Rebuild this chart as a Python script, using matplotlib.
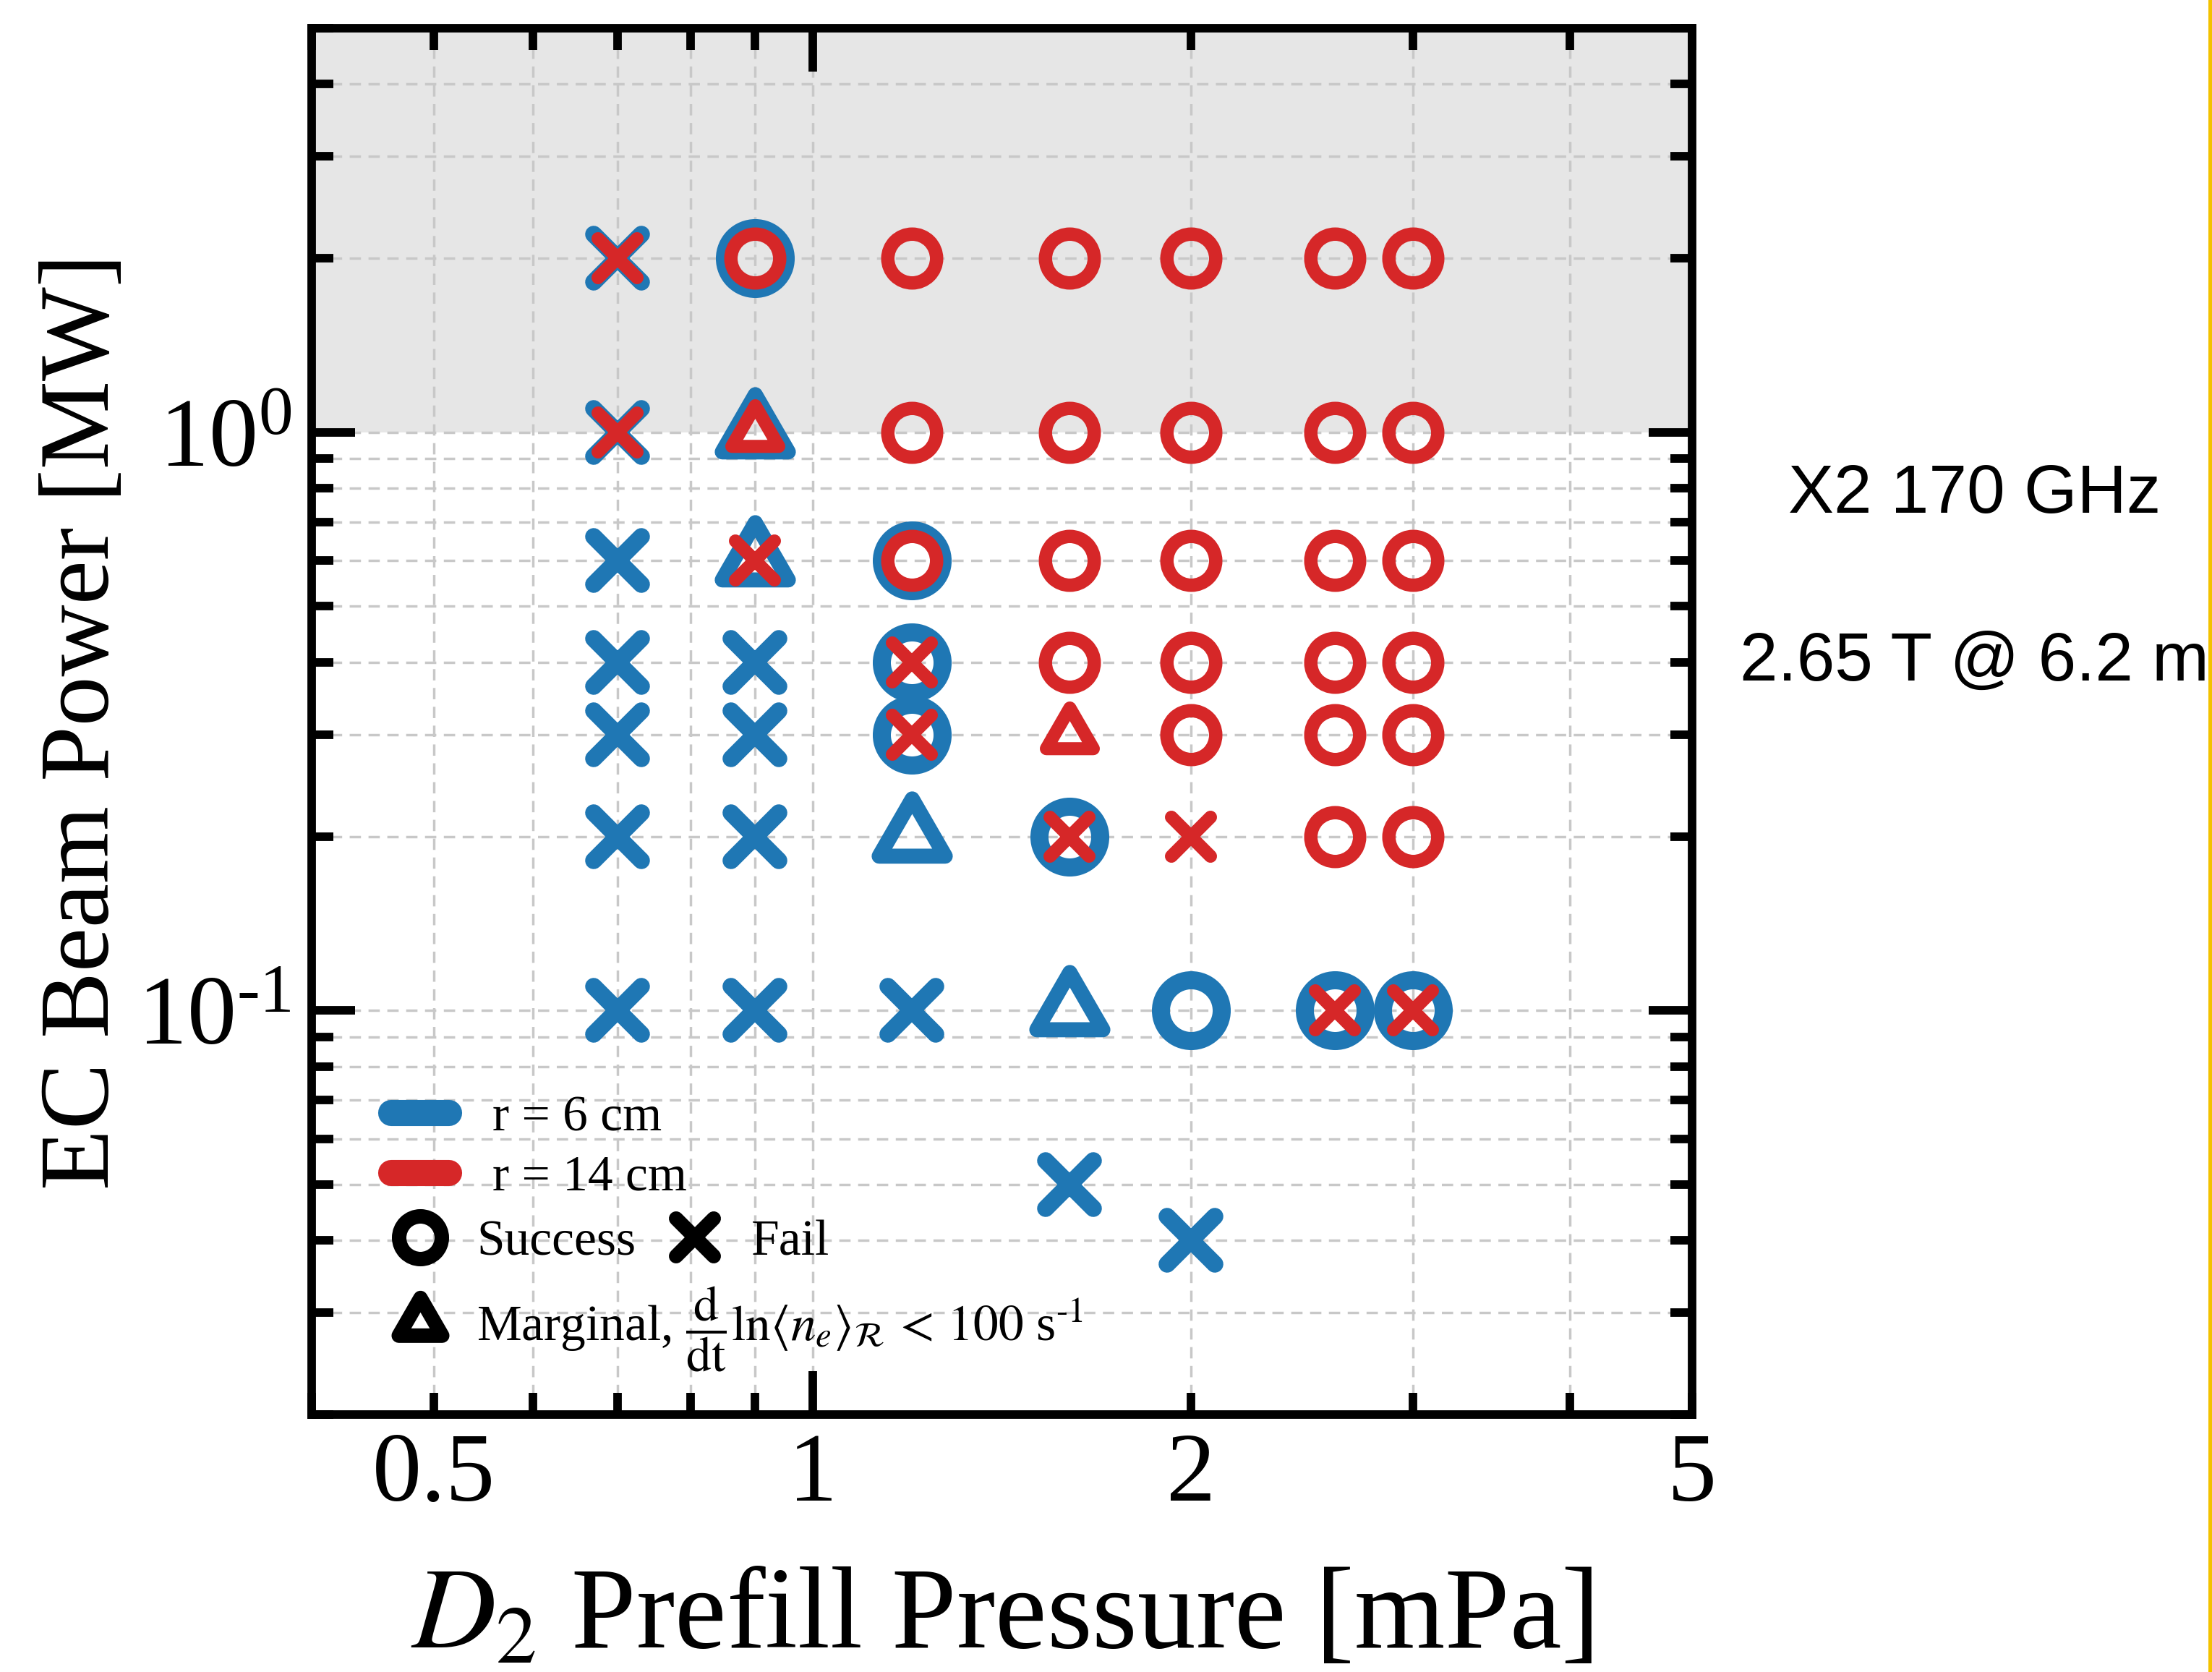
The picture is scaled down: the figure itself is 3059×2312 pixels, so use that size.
import numpy as np
import matplotlib
matplotlib.use("Agg")
import matplotlib.pyplot as plt
from matplotlib.lines import Line2D
from matplotlib.markers import MarkerStyle
from matplotlib.path import Path
from matplotlib.ticker import LogLocator, FuncFormatter, NullFormatter

plt.rcParams['font.family'] = ['Liberation Serif', 'DejaVu Serif']
plt.rcParams['mathtext.fontset'] = 'stix'

# ---------------- data ----------------
# r = 6 cm (blue)
blue_success_x = [0.9, 1.2, 1.2, 1.2, 1.6, 2.0, 2.6, 3.0]
blue_success_y = [2.0, 0.6, 0.4, 0.3, 0.2, 0.1, 0.1, 0.1]
blue_marginal_x = [0.9, 0.9, 1.2, 1.6]
blue_marginal_y = [1.0, 0.6, 0.2, 0.1]
blue_fail_x = [0.7, 0.7, 0.7, 0.7, 0.7, 0.7, 0.7, 0.9, 0.9, 0.9, 0.9, 1.2, 1.6, 2.0]
blue_fail_y = [2.0, 1.0, 0.6, 0.4, 0.3, 0.2, 0.1, 0.4, 0.3, 0.2, 0.1, 0.1, 0.05, 0.04]

# r = 14 cm (red)
red_success_x = [0.9, 1.2, 1.2, 1.2, 1.6, 1.6, 1.6, 1.6,
                 2.0, 2.0, 2.0, 2.0, 2.0,
                 2.6, 2.6, 2.6, 2.6, 2.6, 2.6,
                 3.0, 3.0, 3.0, 3.0, 3.0, 3.0]
red_success_y = [2.0, 2.0, 1.0, 0.6, 2.0, 1.0, 0.6, 0.4,
                 2.0, 1.0, 0.6, 0.4, 0.3,
                 2.0, 1.0, 0.6, 0.4, 0.3, 0.2,
                 2.0, 1.0, 0.6, 0.4, 0.3, 0.2]
red_marginal_x = [0.9, 1.6]
red_marginal_y = [1.0, 0.3]
red_fail_x = [0.7, 0.7, 0.9, 1.2, 1.2, 1.6, 2.0, 2.6, 3.0]
red_fail_y = [2.0, 1.0, 0.6, 0.4, 0.3, 0.2, 0.2, 0.1, 0.1]

x_tick_labels = {0.5: '0.5', 1.0: '1', 2.0: '2', 5.0: '5'}
series_labels = ['r = 6 cm', 'r = 14 cm']
outcome_labels = ['Success', 'Fail',
                  'Marginal, $\\dfrac{\\mathrm{d}}{\\mathrm{dt}}\\mathrm{ln}\\langle n_e\\rangle_{\\mathcal{R}}\\,<\\,\\mathrm{100}$ s$^{\\mathrm{\u20101}}$']
annot_lines = ['X2 170 GHz', '2.65 T @ 6.2 m']

BLUE = '#1f77b4'
RED = '#d62728'

# ---------------- markers ----------------
tri_path = Path([(0, 1), (-0.866, -0.5), (0.866, -0.5), (0, 1)],
                [Path.MOVETO, Path.LINETO, Path.LINETO, Path.CLOSEPOLY])
TRI = MarkerStyle(tri_path, joinstyle='round')
XM = MarkerStyle('x', capstyle='round')
CIR = MarkerStyle('o')

fig = plt.figure(figsize=(30.59, 23.12), dpi=100)
ax = fig.add_axes([0.1409, 0.15398, 0.62406, 0.82915])
ax.set_xscale('log')
ax.set_yscale('log')
ax.set_xlim(0.4, 5.0)
ax.set_ylim(0.02, 5.0)

ax.axhspan(1.0, 5.0, color='#e6e6e6', zorder=0.1, lw=0)
ax.set_axisbelow(True)
ax.grid(True, which='both', color='#c8c8c8', lw=2.5, linestyle=(0, (4.5, 3)))

def pts(ax_, x, y, color, marker, ms, mew):
    ax_.plot(x, y, linestyle='none', marker=marker, markersize=ms,
             markerfacecolor='none', markeredgecolor=color,
             markeredgewidth=mew, zorder=3)

# blue (r = 6 cm)
pts(ax, blue_success_x, blue_success_y, BLUE, CIR, 60.5, 18)
pts(ax, blue_marginal_x, blue_marginal_y, BLUE, TRI, 76, 15)
pts(ax, blue_fail_x, blue_fail_y, BLUE, XM, 47, 17)
# red (r = 14 cm)
pts(ax, red_success_x, red_success_y, RED, CIR, 48.6, 13.3)
pts(ax, red_marginal_x, red_marginal_y, RED, TRI, 54, 13)
pts(ax, red_fail_x, red_fail_y, RED, XM, 39, 13)

# ---------------- ticks ----------------
ax.xaxis.set_major_locator(LogLocator(base=10, numticks=10))
ax.xaxis.set_minor_locator(LogLocator(base=10, subs=np.arange(2, 10), numticks=20))
fmt = FuncFormatter(lambda v, p: x_tick_labels.get(round(v, 3), ''))
ax.xaxis.set_major_formatter(fmt)
ax.xaxis.set_minor_formatter(fmt)
ax.yaxis.set_major_locator(LogLocator(base=10, numticks=10))
ax.yaxis.set_minor_locator(LogLocator(base=10, subs=np.arange(2, 10), numticks=20))
ax.yaxis.set_minor_formatter(NullFormatter())

def yfmt(v, p):
    e = int(round(np.log10(v)))
    es = str(e).replace('-', '\u2010')
    return '$\\mathdefault{10^{%s}}$' % es

ax.yaxis.set_major_formatter(FuncFormatter(yfmt))

ax.tick_params(which='both', direction='in', top=True, right=True, width=8.5,
               labelsize=98, color='black')
ax.tick_params(which='major', length=43)
ax.tick_params(which='minor', length=21.5)
ax.tick_params(axis='x', which='both', pad=18)
ax.tick_params(axis='y', which='both', pad=20)

for s in ax.spines.values():
    s.set_linewidth(8.5)

ax.set_xlabel(r'$D_2$ Prefill Pressure [mPa]', fontsize=116, labelpad=44)
ax.set_ylabel('EC Beam Power [MW]', fontsize=99)
ax.yaxis.set_label_coords(-0.132, 0.5)

# ---------------- legends ----------------
leg_fs = 50
h1 = [Line2D([], [], color=BLUE, lw=26, solid_capstyle='round'),
      Line2D([], [], color=RED, lw=26, solid_capstyle='round')]
leg1 = ax.legend(h1, series_labels, loc='center left', bbox_to_anchor=(0.0576, 0.192),
                 frameon=False, fontsize=leg_fs, handlelength=1.15, handletextpad=0.86,
                 labelspacing=0.27, borderpad=0, borderaxespad=0)
ax.add_artist(leg1)

h2 = [Line2D([], [], linestyle='none', marker=CIR, markersize=42.5, markerfacecolor='none',
             markeredgecolor='black', markeredgewidth=14.4),
      Line2D([], [], linestyle='none', marker=XM, markersize=37, markerfacecolor='none',
             markeredgecolor='black', markeredgewidth=14.4)]
leg2 = ax.legend(h2, outcome_labels[:2], loc='center left', bbox_to_anchor=(0.0576, 0.1237),
                 frameon=False, fontsize=leg_fs, ncol=2, handlelength=1.15, handletextpad=0.55,
                 columnspacing=0.6, borderpad=0, borderaxespad=0, numpoints=1)
ax.add_artist(leg2)

h3 = [Line2D([], [], linestyle='none', marker=TRI, markersize=50, markerfacecolor='none',
             markeredgecolor='black', markeredgewidth=14.4)]
leg3 = ax.legend(h3, outcome_labels[2:], loc='center left', bbox_to_anchor=(0.0576, 0.0618),
                 frameon=False, fontsize=leg_fs, handlelength=1.15, handletextpad=0.55,
                 borderpad=0, borderaxespad=0, numpoints=1)

# ---------------- annotations ----------------
fig.text(0.8925, 0.6933, annot_lines[0], ha='center', va='baseline',
         fontsize=68, family=['Liberation Sans', 'DejaVu Sans'])
fig.text(0.8925, 0.593, annot_lines[1], ha='center', va='baseline',
         fontsize=68, family=['Liberation Sans', 'DejaVu Sans'])

fig.add_artist(Line2D([0.9989, 0.9989], [0.0, 1.0], transform=fig.transFigure,
                      color='#f3c200', lw=3.6))

fig.savefig('out.png', dpi=100)
